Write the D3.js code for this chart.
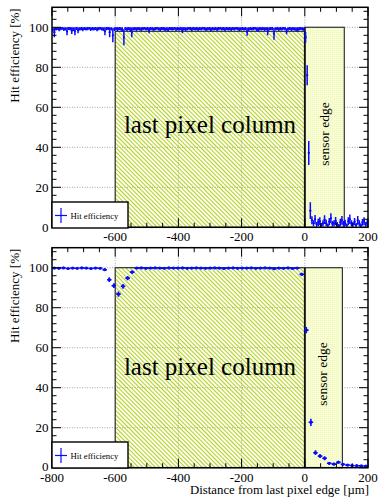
<!DOCTYPE html>
<html>
<head>
<meta charset="utf-8">
<script src="https://cdn.jsdelivr.net/npm/d3@7"></script>
<style>
  html, body { margin: 0; padding: 0; background: #fff; }
  svg { display: block; }
  text { font-family: "Liberation Serif", "Times New Roman", "DejaVu Serif", serif; fill: #000; }
</style>
</head>
<body>
<svg id="chart" width="379" height="498" font-family="Liberation Serif, Times New Roman, serif"></svg>
<script>
// ---- data ----------------------------------------------------------------
// Fine-binned scan (5 um bins from -800 um)
const topBinStart = -800;
const topBinWidth = 5;
const topEff = [
  98.9, 97.5, 99.2, 99.4, 99.0, 99.3, 99.5, 99.1, 99.2, 98.0, 99.4, 99.3, 98.3, 99.1, 98.0, 99.4, 98.5, 99.2, 99.3, 99.0,
  99.4, 99.2, 99.3, 99.5, 99.1, 99.3, 99.2, 99.4, 99.0, 99.3, 99.5, 99.2, 99.1, 98.0, 99.3, 99.4, 97.5, 99.2, 96.0, 99.1,
  99.3, 99.0, 99.4, 99.2, 98.8, 95.0, 99.3, 99.1, 99.4, 98.9, 97.5, 99.2, 99.3, 99.0, 99.4, 99.2, 99.1, 99.3, 99.5, 99.2,
  99.3, 98.5, 99.4, 99.2, 99.1, 99.3, 99.5, 99.2, 99.0, 99.4, 99.3, 99.1, 99.2, 98.8, 99.4, 99.3, 99.2, 99.5, 99.1, 99.3,
  99.2, 99.4, 98.5, 99.3, 99.1, 99.2, 99.5, 99.3, 99.0, 99.4, 99.2, 99.3, 99.1, 99.4, 99.2, 99.5, 99.3, 99.1, 99.2, 99.4,
  98.8, 99.3, 99.2, 99.4, 99.1, 99.3, 99.5, 99.2, 99.3, 99.0, 99.4, 99.2, 99.3, 99.1, 99.4, 99.2, 99.5, 99.3, 99.1, 99.2,
  99.4, 99.2, 99.3, 97.8, 99.1, 99.4, 99.2, 99.3, 99.5, 99.1, 98.8, 99.3, 99.2, 99.4, 99.1, 99.3, 98.0, 99.2, 99.4, 99.3,
  96.8, 99.2, 99.4, 99.1, 99.3, 99.2, 99.5, 99.3, 98.0, 99.2, 99.4, 99.1, 99.3, 99.2, 99.0, 98.8, 99.3, 99.4, 99.2, 99.1,
  95.0, 76.0, 37.2, 8.3, 3.5, 2.0, 4.0, 1.5, 2.5, 3.0, 1.2, 2.0, 3.8, 2.2, 1.0, 2.8, 4.5, 1.8, 2.0, 3.2,
  1.5, 0.8, 2.5, 3.5, 1.8, 2.2, 1.0, 3.0, 4.0, 2.0, 1.5, 2.8, 1.2, 3.5, 2.0, 1.0, 2.5, 3.0, 1.5, 2.0
];
const topErr = [
  1.0, 2.5, 0.8, 0.7, 1.0, 0.8, 0.6, 0.9, 0.8, 2.0, 0.7, 0.8, 1.7, 0.9, 2.0, 0.7, 1.5, 0.8, 0.8, 1.0,
  0.7, 0.8, 0.8, 0.6, 0.9, 0.8, 0.8, 0.7, 1.0, 0.8, 0.6, 0.8, 0.9, 2.0, 0.8, 0.7, 2.5, 0.8, 3.5, 0.9,
  0.8, 1.0, 0.7, 0.8, 1.2, 4.0, 0.8, 0.9, 0.7, 1.1, 2.5, 0.8, 0.8, 1.0, 0.7, 0.8, 0.9, 0.8, 0.6, 0.8,
  0.8, 1.5, 0.7, 0.8, 0.9, 0.8, 0.6, 0.8, 1.0, 0.7, 0.8, 0.9, 0.8, 1.2, 0.7, 0.8, 0.8, 0.6, 0.9, 0.8,
  0.8, 0.7, 1.5, 0.8, 0.9, 0.8, 0.6, 0.8, 1.0, 0.7, 0.8, 0.8, 0.9, 0.7, 0.8, 0.6, 0.8, 0.9, 0.8, 0.7,
  1.2, 0.8, 0.8, 0.7, 0.9, 0.8, 0.6, 0.8, 0.8, 1.0, 0.7, 0.8, 0.8, 0.9, 0.7, 0.8, 0.6, 0.8, 0.9, 0.8,
  0.7, 0.8, 0.8, 2.0, 0.9, 0.7, 0.8, 0.8, 0.6, 0.9, 1.2, 0.8, 0.8, 0.7, 0.9, 0.8, 2.0, 0.8, 0.7, 0.8,
  3.0, 0.8, 0.7, 0.9, 0.8, 0.8, 0.6, 0.8, 1.5, 0.8, 0.7, 0.9, 0.8, 0.8, 1.0, 1.2, 0.8, 0.7, 0.8, 0.9,
  2.7, 5.0, 6.0, 4.2, 2.0, 1.5, 2.2, 1.2, 1.8, 2.0, 1.0, 1.5, 2.2, 1.6, 0.9, 1.8, 2.5, 1.4, 1.5, 2.0,
  1.2, 0.8, 1.8, 2.2, 1.4, 1.6, 0.9, 2.0, 2.4, 1.5, 1.2, 1.8, 1.0, 2.2, 1.5, 0.9, 1.7, 2.0, 1.2, 1.5
];

// Coarse-binned scan (14.5 um bins from -800 um)
const bottomBinStart = -800;
const bottomBinWidth = 14.5;
const bottomEff = [
  99.8, 99.7, 99.9, 99.6, 99.8, 99.7, 99.9, 99.8, 99.6, 99.8, 99.7,
  99.0, 94.0, 91.0, 86.8, 90.7, 94.8, 97.8,
  99.8, 99.9, 99.7, 99.8, 99.9, 99.8, 99.7, 99.9, 99.8, 99.8, 99.9, 99.7,
  99.8, 99.9, 99.8, 99.7, 99.8, 99.9, 99.8, 99.6, 99.8, 99.9, 99.7, 99.8,
  99.8, 99.9, 99.7, 99.8, 99.9, 99.8, 99.5, 99.8, 99.7, 99.9, 99.6, 99.8,
  96.7, 68.8, 22.7, 7.5, 5.8, 4.7, 2.2, 1.8, 2.7, 1.7, 1.3, 1.1, 1.0, 0.9, 0.8
];
const bottomErr = [
  0.3, 0.3, 0.3, 0.3, 0.3, 0.3, 0.3, 0.3, 0.3, 0.3, 0.3,
  0.6, 1.2, 1.2, 1.3, 1.2, 1.1, 0.8,
  0.3, 0.3, 0.3, 0.3, 0.3, 0.3, 0.3, 0.3, 0.3, 0.3, 0.3, 0.3,
  0.3, 0.3, 0.3, 0.3, 0.3, 0.3, 0.3, 0.3, 0.3, 0.3, 0.3, 0.3,
  0.3, 0.3, 0.3, 0.3, 0.3, 0.3, 0.4, 0.3, 0.3, 0.3, 0.3, 0.3,
  0.8, 1.6, 1.8, 1.2, 1.0, 1.0, 0.7, 0.7, 0.8, 0.6, 0.5, 0.5, 0.5, 0.4, 0.4
];

// Axis ticks and labels
const xDomain = [-800, 200];
const yDomain = [0, 110];
const xMajorTicks = [-800, -600, -400, -200, 0, 200];
const xLabelsTop = [-600, -400, -200, 0, 200];
const xLabelsBottom = [-800, -600, -400, -200, 0, 200];
const yMajorTicks = [0, 20, 40, 60, 80, 100];

// Region boxes (um and %)
const pixelColumn = [-600, 0];
const pixelColumnTop = [98, 100];
const sensorEdgeEnd = [125, 119];
const sensorEdgeTop = [100, 100];

const regionLabel = "last pixel column";
const edgeLabel = "sensor edge";
const yTitle = "Hit efficiency [%]";
const xTitle = "Distance from last pixel edge [\u00b5m]";
const legendLabel = "Hit efficiency";

// ---- drawing -------------------------------------------------------------
const svg = d3.select("#chart");
const defs = svg.append("defs");
const blue = "#0a0aff";

const hatch = defs.append("pattern")
  .attr("id", "hatch").attr("patternUnits", "userSpaceOnUse")
  .attr("width", 3).attr("height", 3)
  .attr("patternTransform", "rotate(45)");
hatch.append("line").attr("x1", 0).attr("x2", 3).attr("y1", 1.5).attr("y2", 1.5)
  .attr("stroke", "#b2d21c").attr("stroke-width", 1.1);

const dots = defs.append("pattern")
  .attr("id", "dots").attr("patternUnits", "userSpaceOnUse")
  .attr("width", 2).attr("height", 2);
dots.append("rect").attr("width", 2).attr("height", 2).attr("fill", "#f8fdd6");
dots.append("rect").attr("width", 1).attr("height", 1).attr("fill", "#edf8b4");

const x = d3.scaleLinear().domain(xDomain).range([52, 368]);

const panels = [
  {
    top: 7.3, bottom: 227.3, labels: xLabelsTop, labelY: 240.5,
    start: topBinStart, width: topBinWidth, eff: topEff, err: topErr,
    stroke: 1.5, marker: 1.1,
    textY: 133, edgeX: 329, edgeY: 134, legendTop: 202
  },
  {
    top: 247.7, bottom: 467.7, labels: xLabelsBottom, labelY: 481.5,
    start: bottomBinStart, width: bottomBinWidth, eff: bottomEff, err: bottomErr,
    stroke: 1.6, marker: 1.6,
    textY: 375, edgeX: 327, edgeY: 374, legendTop: 442
  }
];

panels.forEach((p, pi) => {
  const y = d3.scaleLinear().domain(yDomain).range([p.bottom, p.top]);
  const g = svg.append("g");
  const clipId = "clip" + pi;
  defs.append("clipPath").attr("id", clipId)
    .append("rect").attr("x", x.range()[0]).attr("y", p.top)
    .attr("width", x.range()[1] - x.range()[0]).attr("height", p.bottom - p.top);

  // grid
  const grid = g.append("g").attr("stroke", "#9a9a9a").attr("stroke-width", 0.9)
    .attr("stroke-dasharray", "1,1.5");
  xMajorTicks.filter(t => t > xDomain[0] && t < xDomain[1]).forEach(t => {
    grid.append("line").attr("x1", x(t)).attr("x2", x(t)).attr("y1", p.top).attr("y2", p.bottom);
  });
  yMajorTicks.filter(t => t > yDomain[0]).forEach(t => {
    grid.append("line").attr("x1", x.range()[0]).attr("x2", x.range()[1]).attr("y1", y(t)).attr("y2", y(t));
  });

  // last pixel column (hatched) and sensor edge regions
  g.append("rect")
    .attr("x", x(pixelColumn[0])).attr("y", y(pixelColumnTop[pi]))
    .attr("width", x(pixelColumn[1]) - x(pixelColumn[0]))
    .attr("height", y(0) - y(pixelColumnTop[pi]))
    .attr("fill", "url(#hatch)").attr("stroke", "#222").attr("stroke-width", 1.1);
  g.append("rect")
    .attr("x", x(0)).attr("y", y(sensorEdgeTop[pi]))
    .attr("width", x(sensorEdgeEnd[pi]) - x(0))
    .attr("height", y(0) - y(sensorEdgeTop[pi]))
    .attr("fill", "url(#dots)").attr("stroke", "#333").attr("stroke-width", 1.2);
  g.append("line").attr("x1", x(0)).attr("x2", x(0))
    .attr("y1", y(sensorEdgeTop[pi])).attr("y2", y(0))
    .attr("stroke", "#111").attr("stroke-width", 1.8);

  g.append("text").attr("x", (x(pixelColumn[0]) + x(pixelColumn[1])) / 2).attr("y", p.textY)
    .attr("text-anchor", "middle").attr("font-size", 25).text(regionLabel);
  g.append("text").attr("transform", `translate(${p.edgeX},${p.edgeY}) rotate(-90)`)
    .attr("text-anchor", "middle").attr("font-size", 13.5).text(edgeLabel);

  // data points with error bars
  const data = p.eff.map((v, i) => ({
    c: p.start + p.width * (i + 0.5), v: v, e: p.err[i]
  }));
  const pts = g.append("g").attr("clip-path", `url(#${clipId})`)
    .attr("stroke", blue).attr("fill", blue).attr("stroke-width", p.stroke);
  pts.selectAll("line.h").data(data).join("line").attr("class", "h")
    .attr("x1", d => x(d.c - p.width / 2)).attr("x2", d => x(d.c + p.width / 2))
    .attr("y1", d => y(d.v)).attr("y2", d => y(d.v));
  pts.selectAll("line.v").data(data).join("line").attr("class", "v")
    .attr("x1", d => x(d.c)).attr("x2", d => x(d.c))
    .attr("y1", d => y(d.v - d.e)).attr("y2", d => y(d.v + d.e));
  pts.selectAll("circle").data(data).join("circle")
    .attr("cx", d => x(d.c)).attr("cy", d => y(d.v)).attr("r", p.marker).attr("stroke", "none");

  // frame and ticks
  const ax = g.append("g").attr("stroke", "#000");
  ax.append("rect").attr("x", x.range()[0]).attr("y", p.top)
    .attr("width", x.range()[1] - x.range()[0]).attr("height", p.bottom - p.top)
    .attr("fill", "none").attr("stroke-width", 1.5);
  const xMinor = d3.range(xDomain[0], xDomain[1] + 1, 50);
  xMinor.forEach(t => {
    const len = xMajorTicks.includes(t) ? 9 : 4.5;
    ax.append("line").attr("x1", x(t)).attr("x2", x(t)).attr("y1", p.bottom).attr("y2", p.bottom - len).attr("stroke-width", 1);
    ax.append("line").attr("x1", x(t)).attr("x2", x(t)).attr("y1", p.top).attr("y2", p.top + len).attr("stroke-width", 1);
  });
  const yMinor = d3.range(yDomain[0], yDomain[1] + 0.01, 4);
  yMinor.forEach(t => {
    const len = yMajorTicks.includes(t) ? 9 : 4.5;
    ax.append("line").attr("x1", x.range()[0]).attr("x2", x.range()[0] + len).attr("y1", y(t)).attr("y2", y(t)).attr("stroke-width", 1);
    ax.append("line").attr("x1", x.range()[1]).attr("x2", x.range()[1] - len).attr("y1", y(t)).attr("y2", y(t)).attr("stroke-width", 1);
  });

  // tick labels
  p.labels.forEach(t => {
    g.append("text").attr("x", x(t)).attr("y", p.labelY).attr("text-anchor", "middle")
      .attr("font-size", 13).text(t);
  });
  yMajorTicks.forEach(t => {
    const off = (pi === 1 && t === 0) ? 2.8 : 4.5;
    g.append("text").attr("x", 48.5).attr("y", y(t) + off).attr("text-anchor", "end")
      .attr("font-size", 13).text(t);
  });

  // y title
  g.append("text").attr("transform", `translate(19,${p.top + 1}) rotate(-90)`)
    .attr("text-anchor", "end").attr("font-size", 13).text(yTitle);

  // legend
  const lg = g.append("g");
  lg.append("rect").attr("x", 52).attr("y", p.legendTop).attr("width", 76).attr("height", 26)
    .attr("fill", "#fff").attr("stroke", "#000").attr("stroke-width", 1.4);
  const cy = p.legendTop + 13.5;
  lg.append("line").attr("x1", 55).attr("x2", 67).attr("y1", cy).attr("y2", cy)
    .attr("stroke", blue).attr("stroke-width", 1.2);
  lg.append("line").attr("x1", 61).attr("x2", 61).attr("y1", cy - 7.5).attr("y2", cy + 7.5)
    .attr("stroke", blue).attr("stroke-width", 1.2);
  lg.append("text").attr("x", 70.5).attr("y", cy + 3).attr("font-size", 8.7).text(legendLabel);
});

// x title
svg.append("text").attr("x", 369).attr("y", 494).attr("text-anchor", "end")
  .attr("font-size", 12.8).text(xTitle);
</script>
</body>
</html>
